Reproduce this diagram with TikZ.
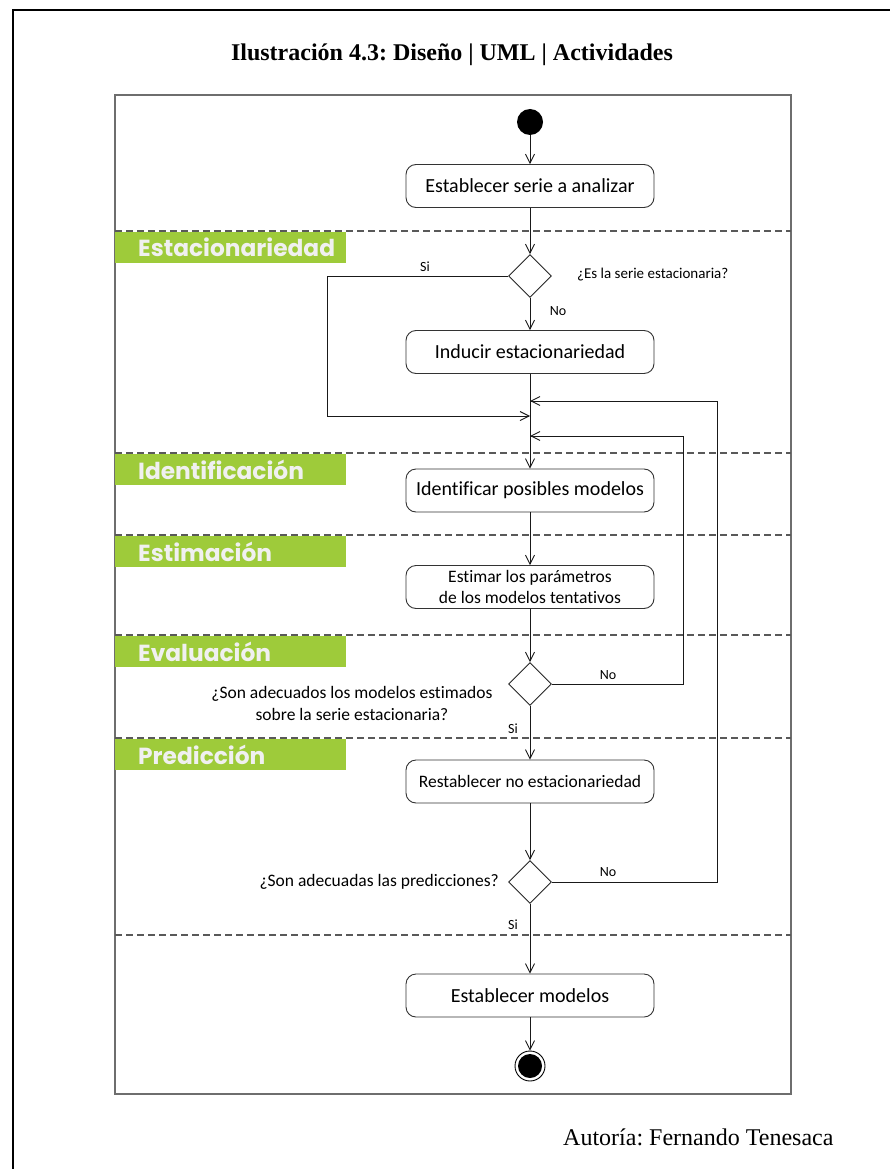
\documentclass[tikz,border=0pt]{standalone}
\usepackage{fontspec}
\setmainfont{Liberation Serif}
\newfontfamily\calib{Carlito}[Ligatures=NoCommon]
\newfontfamily\lanefont{Poppins}[Ligatures=NoCommon]
\usetikzlibrary{shapes.geometric,arrows.meta}
\definecolor{lanegreen}{RGB}{158,203,58}
\definecolor{lanetext}{RGB}{240,240,240}
\definecolor{framegray}{RGB}{110,110,110}
\tikzset{
  act/.style={draw=black!80, line width=0.9pt, rounded corners=10pt, fill=white,
    minimum width=248pt, minimum height=43pt, inner sep=2pt, align=center,
    font=\calib\fontsize{20}{22}\selectfont},
  actsmall/.style={act, font=\calib\fontsize{17.5}{21}\selectfont},
  decision/.style={diamond, draw=black!85, line width=0.9pt, fill=white,
    minimum width=43pt, minimum height=43pt, inner sep=0pt},
  lanelabel/.style={fill=lanegreen, text=lanetext, anchor=north west,
    minimum height=31pt, text width=185pt, inner xsep=23pt, inner ysep=0pt,
    align=left, font=\lanefont\bfseries\fontsize{23.3}{26}\selectfont},
  lanesep/.style={draw=black!65, line width=1.2pt, dash pattern=on 7pt off 4pt},
  flow/.style={draw=black!90, line width=0.9pt, -{Straight Barb[length=9pt,width=9pt]}},
  guard/.style={font=\calib\fontsize{14}{16}\selectfont, inner sep=0pt},
  question/.style={font=\calib\fontsize{17.5}{22}\selectfont, inner sep=0pt, align=center}
}
\begin{document}
\frenchspacing
\begin{tikzpicture}[x=1pt,y=-1pt]
\useasboundingbox (0,0) rectangle (890,1169);
\fill[white] (0,0) rectangle (890,1169);

% outer page frame
\draw[line width=2.5pt] (13,1169) -- (13,10) -- (890,10);

% title
\node[font=\bfseries\fontsize{24}{28}\selectfont, inner sep=0pt] (title) at (452,55)
  {Ilustración 4.3: Diseño | UML | Actividades};

% diagram frame
\draw[framegray, line width=1.3pt] (115,95) rectangle (791,1094);

% lane separators
\foreach \yy in {231,453,535,635,738,935}
  \draw[lanesep] (115,\yy) -- (791,\yy);

% lane labels
\node[lanelabel] (l1) at (115,232) {Estacionariedad};
\node[lanelabel] (l2) at (115,454) {Identificación};
\node[lanelabel] (l3) at (115,536) {Estimación};
\node[lanelabel] (l4) at (115,636) {Evaluación};
\node[lanelabel] (l5) at (115,739) {Predicción};

% activity nodes
\node[circle, fill=black, minimum size=26pt, inner sep=0pt] (startn) at (530,122) {};
\node[act] (b1) at (530,186) {Establecer serie a analizar};
\node[decision] (d1) at (530,276) {};
\node[act] (b2) at (530,352) {Inducir estacionariedad};
\node[act] (b3) at (530,490.5) {Identificar posibles modelos};
\node[actsmall] (b4) at (530,587) {Estimar los parámetros\\de los modelos tentativos};
\node[decision] (d2) at (530,684) {};
\node[actsmall] (b5) at (530,781.5) {Restablecer no estacionariedad};
\node[decision] (d3) at (530,882) {};
\node[act] (b6) at (530,995.5) {Establecer modelos};
\node[circle, draw=black, line width=0.9pt, minimum size=30pt, inner sep=0pt] (endn) at (530,1066) {};
\fill (530,1066) circle (12pt);

% junction points on the main line
\coordinate (j1) at (530,416);
\coordinate (j2) at (530,401);
\coordinate (j3) at (530,436);

% connectors
\draw[flow] (startn) -- (b1);
\draw[flow] (b1) -- (d1);
\draw[flow] (d1) -- (b2);
\draw[flow] (d1.west) -- (327,276) -- (327,416) -- (j1);
\draw[flow] (b2) -- (b3);
\draw[flow] (b3) -- (b4);
\draw[flow] (b4) -- (d2);
\draw[flow] (d2.east) -- (683,684) -- (683,436) -- (j3);
\draw[flow] (d2) -- (b5);
\draw[flow] (b5) -- (d3);
\draw[flow] (d3.east) -- (717,882) -- (717,401) -- (j2);
\draw[flow] (d3) -- (b6);
\draw[flow] (b6) -- (endn);

% guards and questions
\node[guard] (g1) at (425,267) {Si};
\node[guard] (g2) at (558,311) {No};
\node[guard] (g3) at (608,675) {No};
\node[guard] (g4) at (513,729) {Si};
\node[guard] (g5) at (608,872) {No};
\node[guard] (g6) at (513,925) {Si};
\node[font=\calib\fontsize{15}{18}\selectfont, inner sep=0pt, anchor=west] (q1) at (577,275) {¿Es la serie estacionaria?};
\node[question] (q2) at (352,703) {¿Son adecuados los modelos estimados\\sobre la serie estacionaria?};
\node[question, anchor=east] (q3) at (499,882) {¿Son adecuadas las predicciones?};

% author line
\node[font=\fontsize{24}{28}\selectfont, inner sep=0pt, anchor=base west] (author) at (563,1145) {Autoría: Fernando Tenesaca};
\end{tikzpicture}
\end{document}
